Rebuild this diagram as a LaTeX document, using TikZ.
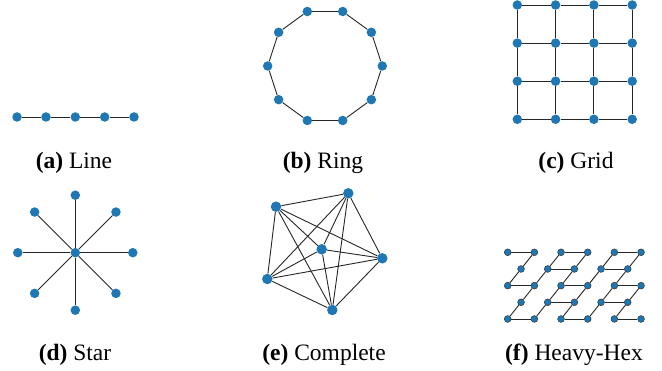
\documentclass[tikz,border=0pt]{standalone}
\usepackage{fontspec}
\setmainfont{Liberation Serif}
\usetikzlibrary{backgrounds}
\definecolor{nodeblue}{HTML}{1F77B4}
\begin{document}
\begin{tikzpicture}[x=1pt,y=-1pt,
  vtx/.style={circle,fill=nodeblue,inner sep=0pt,minimum size=9.5pt},
  bigvtx/.style={circle,fill=nodeblue,inner sep=0pt,minimum size=10.5pt},
  hexvtx/.style={circle,fill=nodeblue,draw=black!80,line width=0.5pt,inner sep=0pt,minimum size=6.8pt},
  link/.style={draw=black!85,line width=0.9pt},
  captxt/.style={font=\fontsize{23.5}{27}\selectfont,anchor=center,inner sep=0pt}]
\useasboundingbox (0,0) rectangle (662,371);

% (a) Line
\foreach \i/\x in {0/17,1/46,2/75.3,3/104.7,4/134}
  \node[vtx] (l\i) at (\x,117) {};
\begin{scope}[on background layer]
\foreach \i/\j in {0/1,1/2,2/3,3/4}
  \draw[link] (l\i) -- (l\j);
\end{scope}
\node[captxt] (capa) at (74,162.5) {\textbf{(a)} Line};

% (b) Ring
\foreach \k in {0,...,9}
  \node[vtx] (r\k) at ({325+57.3*cos(36*\k)},{66-57.3*sin(36*\k)}) {};
\begin{scope}[on background layer]
\foreach \k/\m in {0/1,1/2,2/3,3/4,4/5,5/6,6/7,7/8,8/9,9/0}
  \draw[link] (r\k) -- (r\m);
\end{scope}
\node[captxt] (capb) at (323,162.5) {\textbf{(b)} Ring};

% (c) Grid
\foreach \i/\x in {0/517.3,1/555.6,2/593.9,3/632.2}
  \foreach \j/\y in {0/5,1/43.1,2/81.2,3/119.3}
    \node[vtx] (g\i\j) at (\x,\y) {};
\begin{scope}[on background layer]
\foreach \i in {0,1,2,3}
  \foreach \j/\jj in {0/1,1/2,2/3}
    \draw[link] (g\i\j) -- (g\i\jj);
\foreach \i in {0,1,2,3}
  \foreach \j/\jj in {0/1,1/2,2/3}
    \draw[link] (g\j\i) -- (g\jj\i);
\end{scope}
\node[captxt] (capc) at (576,162.5) {\textbf{(c)} Grid};

% (d) Star
\node[vtx] (sc) at (75.3,252.7) {};
\foreach \k in {0,...,7}
  \node[vtx] (s\k) at ({75.3+57.5*cos(45*\k)},{252.7-57.5*sin(45*\k)}) {};
\begin{scope}[on background layer]
\foreach \k in {0,...,7}
  \draw[link] (sc) -- (s\k);
\end{scope}
\node[captxt] (capd) at (75,354.5) {\textbf{(d)} Star};

% (e) Complete
\node[bigvtx] (c1) at (276,206.7) {};
\node[bigvtx] (c2) at (348.3,193.3) {};
\node[bigvtx] (c3) at (321.7,249.3) {};
\node[bigvtx] (c4) at (382.3,258.3) {};
\node[bigvtx] (c5) at (267.3,279) {};
\node[bigvtx] (c6) at (332.3,310) {};
\begin{scope}[on background layer]
\foreach \a/\b in {1/2,1/3,1/4,1/5,1/6,2/3,2/4,2/5,2/6,3/4,3/5,3/6,4/5,4/6,5/6}
  \draw[link] (c\a) -- (c\b);
\end{scope}
\node[captxt] (cape) at (324,354.5) {\textbf{(e)} Complete};

% (f) Heavy-Hex
\foreach \r in {0,2,4}
  \foreach \k in {0,...,5}
    \node[hexvtx] (h\r\k) at ({507.7+26.67*\k},{252.3+16.67*\r}) {};
\foreach \r in {1,3}
  \foreach \k in {0,...,4}
    \node[hexvtx] (h\r\k) at ({507.7+26.67*(\k+0.5)},{252.3+16.67*\r}) {};
\begin{scope}[on background layer]
\foreach \r in {0,2,4}
  \foreach \a/\b in {0/1,2/3,4/5}
    \draw[link] (h\r\a) -- (h\r\b);
\foreach \r in {1,3}
  \foreach \a/\b in {1/2,3/4}
    \draw[link] (h\r\a) -- (h\r\b);
\foreach \r/\s in {0/1,2/3}
  \foreach \k/\m in {1/0,2/1,3/2,4/3,5/4}
    \draw[link] (h\r\k) -- (h\s\m);
\foreach \r/\s in {1/2,3/4}
  \foreach \k in {0,...,4}
    \draw[link] (h\r\k) -- (h\s\k);
\end{scope}
\node[captxt] (capf) at (574,354.5) {\textbf{(f)} Heavy-Hex};
\end{tikzpicture}
\end{document}
